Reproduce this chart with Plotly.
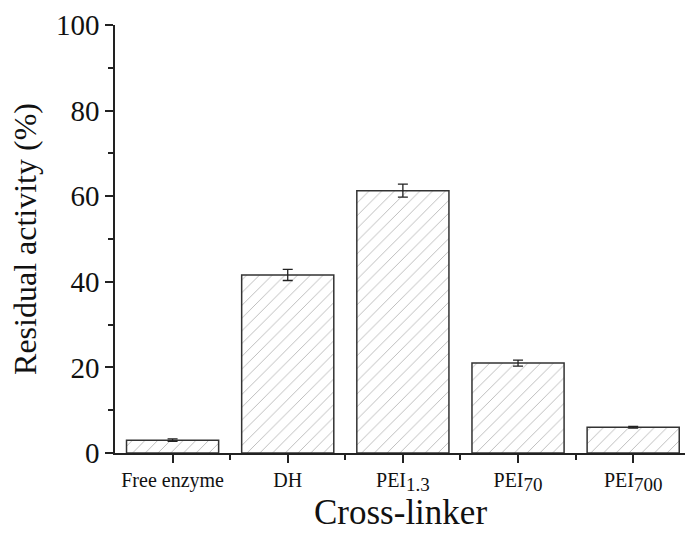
import plotly.graph_objects as go

def sub(base, s):
    return f'{base}<sub><span style="font-size:19px">{s}</span></sub>'

categories = ["Free enzyme", "DH", sub("PEI", "1.3"), sub("PEI", "70"), sub("PEI", "700")]
activity = [3.0, 41.6, 61.3, 21.0, 6.0]
errors = [0.3, 1.3, 1.5, 0.7, 0.2]
x_title = "Cross-linker"
y_title = "Residual activity (%)"

xpos = list(range(len(categories)))
font = "Liberation Serif, Times New Roman, serif"

fig = go.Figure()
fig.add_trace(go.Bar(
    x=xpos, y=activity, width=0.8,
    marker=dict(color="white",
                line=dict(color="#333333", width=1.5),
                pattern=dict(shape="/", fgcolor="#6f6f6f", bgcolor="white", size=9, solidity=0.1)),
    error_y=dict(type="data", array=errors, color="#222222", thickness=1.3, width=5),
    showlegend=False,
))

fig.update_layout(
    width=685, height=533,
    margin=dict(l=115, r=0, t=25, b=80),
    plot_bgcolor="white", paper_bgcolor="white",
    font=dict(family=font, color="#111111"),
)
fig.add_annotation(text=x_title, xref="paper", yref="paper", x=0.5, y=-0.138,
                   xanchor="center", yanchor="middle", showarrow=False,
                   font=dict(size=35, family=font, color="#111111"))
fig.update_xaxes(
    range=[-0.5, 4.45],
    automargin=False,
    tickmode="array", tickvals=xpos, ticktext=categories,
    tickfont=dict(size=20),
    ticks="outside", ticklen=8, tickwidth=1.5, tickcolor="#222222",
    minor=dict(tickmode="array", tickvals=[0.5, 1.5, 2.5, 3.5], ticks="outside", ticklen=5, tickwidth=1.5, tickcolor="#222222"),
    showline=True, linecolor="#222222", linewidth=1.5,
    showgrid=False, zeroline=False,
)
fig.update_yaxes(
    range=[0, 100],
    automargin=False,
    tickmode="array", tickvals=[0, 20, 40, 60, 80, 100],
    tickfont=dict(size=29),
    ticks="outside", ticklen=8, tickwidth=1.5, tickcolor="#222222",
    minor=dict(tickmode="array", tickvals=[10, 30, 50, 70, 90], ticks="outside", ticklen=5, tickwidth=1.5, tickcolor="#222222"),
    showline=True, linecolor="#222222", linewidth=1.5,
    showgrid=False, zeroline=False,
    title=dict(text=y_title, font=dict(size=32), standoff=10),
)

fig.write_html("out.html")
